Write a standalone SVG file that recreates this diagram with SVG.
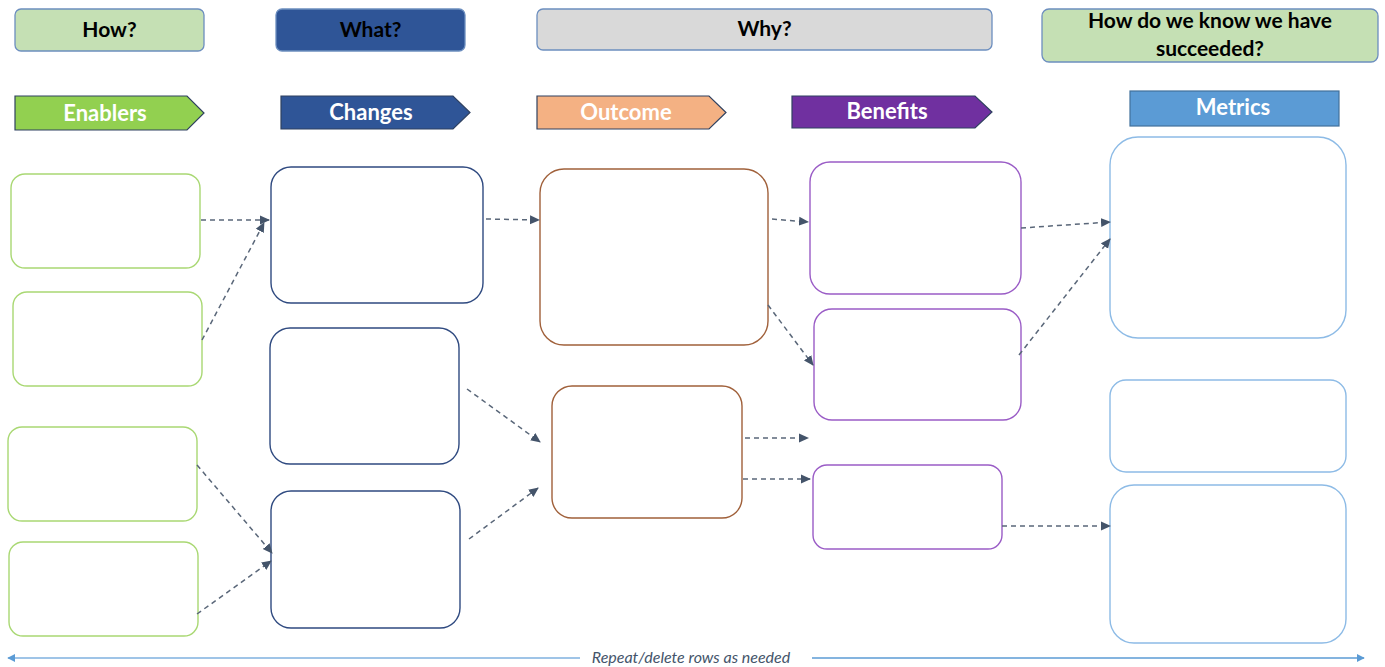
<svg xmlns="http://www.w3.org/2000/svg" width="1385" height="667" viewBox="0 0 1385 667">
<defs>
<style>
.hdr{stroke:#6c8ebf;stroke-width:1.3}
.ht{font-family:Lato,"Open Sans","Liberation Sans",sans-serif;font-weight:bold;font-size:21px;fill:#000;text-anchor:middle}
.tag{stroke:#2f4160;stroke-width:1.2}
.tt{font-family:Lato,"Open Sans","Liberation Sans",sans-serif;font-weight:bold;font-size:22px;fill:#fff;text-anchor:middle}
.box{fill:#fff;stroke-width:1.4}
.en{stroke:#a9d873}
.ch{stroke:#2f4a80}
.oc{stroke:#a0603a}
.be{stroke:#9a5cc6}
.me{stroke:#8dbbe6}
.con path{fill:none;stroke:#5a6779;stroke-width:1.5;stroke-dasharray:5 4;marker-end:url(#ah)}
</style>
<marker id="ah" viewBox="0 0 10 10" refX="9" refY="5" markerWidth="10" markerHeight="10" markerUnits="userSpaceOnUse" orient="auto">
<path d="M0,0.5 L10,5 L0,9.5 z" fill="#44546a"/>
</marker>
<marker id="bl" viewBox="0 0 10 10" refX="9" refY="5" markerWidth="8" markerHeight="8" markerUnits="userSpaceOnUse" orient="auto-start-reverse">
<path d="M0,0 L10,5 L0,10 z" fill="#5b9bd5"/>
</marker>
</defs>
<rect width="1385" height="667" fill="#fff"/>

<g id="hdr-how"><rect class="hdr" x="15" y="9" width="189" height="42" rx="6" fill="#c5e0b4"/><text class="ht" x="109.5" y="37">How?</text></g>
<g id="hdr-what"><rect class="hdr" x="276" y="9" width="189" height="42" rx="6" fill="#2f5597"/><text class="ht" x="370.5" y="37">What?</text></g>
<g id="hdr-why"><rect class="hdr" x="537" y="9" width="455" height="41" rx="6" fill="#d9d9d9"/><text class="ht" x="764.5" y="36">Why?</text></g>
<g id="hdr-know"><rect class="hdr" x="1042" y="9" width="336" height="53" rx="7" fill="#c5e0b4"/><text class="ht" x="1210" y="28">How do we know we have</text><text class="ht" x="1210" y="56">succeeded?</text></g>

<g id="tag-enablers"><path class="tag" d="M15,96 H187 L204,113 L187,130 H15 Z" fill="#92d050"/><text class="tt" x="105" y="121">Enablers</text></g>
<g id="tag-changes"><path class="tag" d="M281,96 H453 L470,112.5 L453,129 H281 Z" fill="#2f5597"/><text class="tt" x="371" y="120">Changes</text></g>
<g id="tag-outcome"><path class="tag" d="M537,96 H709 L726,112.5 L709,129 H537 Z" fill="#f4b183"/><text class="tt" x="626" y="120">Outcome</text></g>
<g id="tag-benefits"><path class="tag" d="M792,96 H975 L992,112 L975,128 H792 Z" fill="#7030a0"/><text class="tt" x="887" y="119">Benefits</text></g>
<g id="tag-metrics"><rect x="1130" y="91" width="209" height="35" fill="#5b9bd5" stroke="#41719c" stroke-width="1.2"/><text class="tt" x="1233" y="115">Metrics</text></g>

<g id="en1"><rect class="box en" x="11" y="174" width="189" height="94" rx="14"/></g>
<g id="en2"><rect class="box en" x="13" y="292" width="189" height="94" rx="14"/></g>
<g id="en3"><rect class="box en" x="8" y="427" width="189" height="94" rx="14"/></g>
<g id="en4"><rect class="box en" x="9" y="542" width="189" height="94" rx="14"/></g>

<g id="ch1"><rect class="box ch" x="271" y="167" width="212" height="136" rx="20"/></g>
<g id="ch2"><rect class="box ch" x="270" y="328" width="189" height="136" rx="20"/></g>
<g id="ch3"><rect class="box ch" x="271" y="491" width="189" height="137" rx="20"/></g>

<g id="oc1"><rect class="box oc" x="540" y="169" width="228" height="176" rx="24"/></g>
<g id="oc2"><rect class="box oc" x="552" y="386" width="190" height="132" rx="20"/></g>

<g id="be1"><rect class="box be" x="810" y="162" width="211" height="132" rx="20"/></g>
<g id="be2"><rect class="box be" x="814" y="309" width="207" height="111" rx="18"/></g>
<g id="be3"><rect class="box be" x="813" y="465" width="189" height="84" rx="14"/></g>

<g id="me1"><rect class="box me" x="1110" y="137" width="236" height="201" rx="28"/></g>
<g id="me2"><rect class="box me" x="1110" y="380" width="236" height="92" rx="16"/></g>
<g id="me3"><rect class="box me" x="1110" y="485" width="236" height="158" rx="24"/></g>

<g id="connectors" class="con">
<path d="M201,220 L269,220"/>
<path d="M202,340 L264,223"/>
<path d="M197,465 L272,553"/>
<path d="M197,614 L271,561"/>
<path d="M486,219 L539,220"/>
<path d="M772,219 L808,222"/>
<path d="M768,305 L813,365"/>
<path d="M467,389 L540,442"/>
<path d="M469,539 L538,488"/>
<path d="M745,438 L808,438"/>
<path d="M743,479 L810,479"/>
<path d="M1021,228 L1110,222"/>
<path d="M1019,355 L1110,239"/>
<path d="M1002,526 L1110,526"/>
</g>

<g id="footer">
<path d="M580,658 L8,658" fill="none" stroke="#7fb0df" stroke-width="1.5" marker-end="url(#bl)"/>
<path d="M812,658 L1364,658" fill="none" stroke="#5b9bd5" stroke-width="1.5" marker-end="url(#bl)"/>
<text x="691" y="663" font-family="Lato,'Open Sans','Liberation Sans',sans-serif" font-style="italic" font-size="16" fill="#44546a" text-anchor="middle">Repeat/delete rows as needed</text>
</g>
</svg>
